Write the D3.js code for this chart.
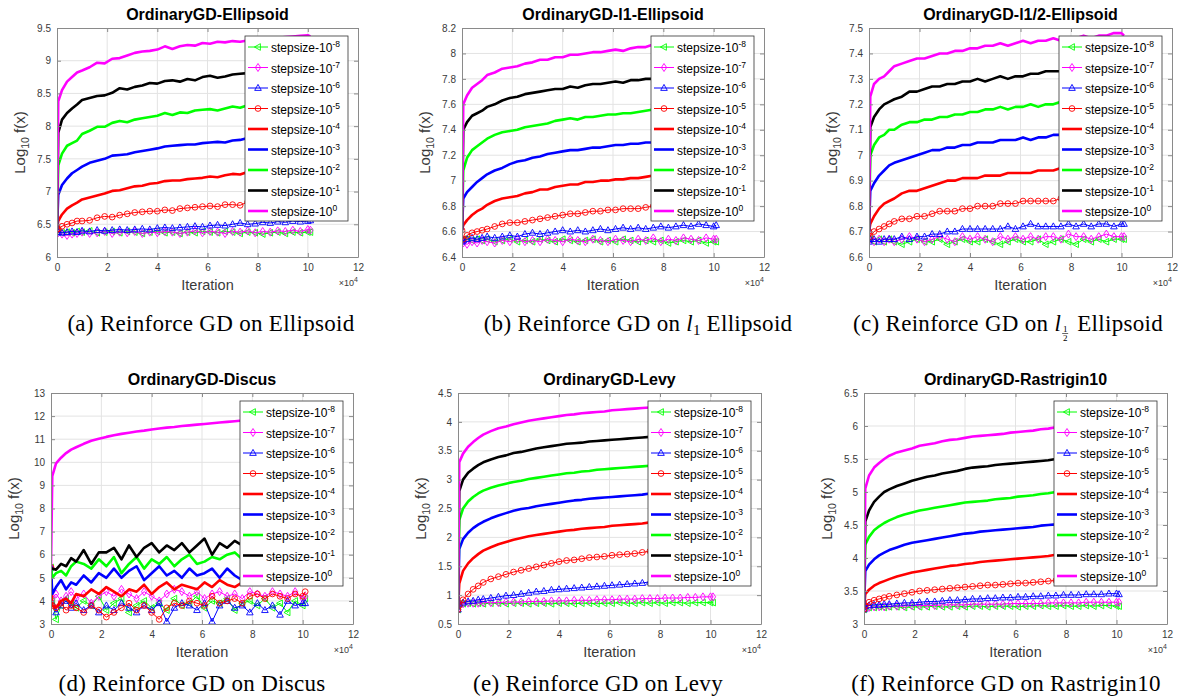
<!DOCTYPE html>
<html>
<head>
<meta charset="utf-8">
<script src="https://cdn.jsdelivr.net/npm/d3@7"></script>
<style>
  html, body { margin: 0; padding: 0; background: #fff; }
  svg { display: block; }
</style>
</head>
<body>
<svg id="chart" width="1194" height="698"></svg>
<script>
// ---------------- DATA ----------------
// iteration (x 10^4)
const iterations = [0, 0.05, 0.2, 0.4, 0.6, 0.8, 1.0, 1.3, 1.6, 1.9, 2.2, 2.5, 2.8, 3.1, 3.4, 3.7, 4.0, 4.3, 4.6, 4.9, 5.2, 5.5, 5.8, 6.1, 6.4, 6.7, 7.0, 7.3, 7.6, 7.9, 8.2, 8.5, 8.8, 9.1, 9.4, 9.7, 10.0, 10.1];
const stepExponents = ["-8", "-7", "-6", "-5", "-4", "-3", "-2", "-1", "0"];
const xTicks = [0, 2, 4, 6, 8, 10, 12];

const panelTitles = ["OrdinaryGD-Ellipsoid", "OrdinaryGD-l1-Ellipsoid", "OrdinaryGD-l1/2-Ellipsoid",
                     "OrdinaryGD-Discus", "OrdinaryGD-Levy", "OrdinaryGD-Rastrigin10"];

const yTicksEllipsoid = [6, 6.5, 7, 7.5, 8, 8.5, 9, 9.5];
const yTicksL1 = [6.4, 6.6, 6.8, 7, 7.2, 7.4, 7.6, 7.8, 8, 8.2];
const yTicksL12 = [6.6, 6.7, 6.8, 6.9, 7, 7.1, 7.2, 7.3, 7.4, 7.5];
const yTicksDiscus = [3, 4, 5, 6, 7, 8, 9, 10, 11, 12, 13];
const yTicksLevy = [0.5, 1, 1.5, 2, 2.5, 3, 3.5, 4, 4.5];
const yTicksRastrigin = [3, 3.5, 4, 4.5, 5, 5.5, 6, 6.5];

// series order: stepsize 10^-8, 10^-7, ..., 10^0
const ellipsoidValues = [
  [6.42,6.38,6.37,6.38,6.37,6.39,6.38,6.40,6.37,6.38,6.39,6.37,6.39,6.38,6.36,6.38,6.39,6.37,6.38,6.36,6.38,6.37,6.39,6.38,6.37,6.39,6.38,6.36,6.38,6.37,6.35,6.37,6.38,6.36,6.38,6.37,6.38,6.38],
  [6.42,6.37,6.35,6.33,6.35,6.36,6.38,6.36,6.37,6.39,6.36,6.38,6.37,6.39,6.36,6.38,6.37,6.39,6.38,6.36,6.38,6.40,6.37,6.39,6.38,6.36,6.39,6.38,6.40,6.37,6.39,6.38,6.40,6.39,6.41,6.39,6.42,6.41],
  [6.42,6.38,6.37,6.38,6.39,6.38,6.40,6.39,6.41,6.40,6.41,6.42,6.41,6.42,6.43,6.42,6.44,6.45,6.44,6.45,6.46,6.47,6.46,6.48,6.49,6.48,6.50,6.52,6.50,6.51,6.53,6.52,6.54,6.53,6.55,6.54,6.55,6.56],
  [6.42,6.43,6.47,6.50,6.52,6.55,6.55,6.56,6.60,6.62,6.61,6.64,6.66,6.68,6.69,6.70,6.70,6.72,6.71,6.74,6.75,6.76,6.77,6.78,6.77,6.80,6.80,6.79,6.84,6.82,6.83,6.84,6.83,6.85,6.86,6.85,6.87,6.86],
  [6.42,6.55,6.65,6.74,6.79,6.83,6.88,6.91,6.94,6.97,7.01,7.02,7.05,7.08,7.09,7.12,7.13,7.16,7.17,7.17,7.19,7.20,7.21,7.23,7.22,7.25,7.27,7.26,7.30,7.29,7.31,7.31,7.32,7.33,7.33,7.34,7.35,7.35],
  [6.42,6.95,7.10,7.20,7.28,7.33,7.38,7.44,7.47,7.50,7.55,7.56,7.57,7.60,7.62,7.64,7.66,7.69,7.70,7.71,7.72,7.72,7.74,7.75,7.76,7.75,7.78,7.79,7.82,7.82,7.83,7.84,7.84,7.85,7.86,7.86,7.87,7.87],
  [6.42,7.40,7.58,7.70,7.74,7.78,7.88,7.93,7.99,7.99,8.05,8.08,8.06,8.10,8.12,8.14,8.16,8.20,8.17,8.21,8.20,8.24,8.25,8.26,8.24,8.27,8.30,8.28,8.32,8.31,8.33,8.34,8.33,8.35,8.36,8.35,8.37,8.37],
  [6.42,7.90,8.10,8.20,8.27,8.33,8.40,8.43,8.46,8.47,8.51,8.58,8.56,8.60,8.62,8.66,8.65,8.69,8.70,8.68,8.72,8.70,8.75,8.77,8.74,8.76,8.79,8.80,8.81,8.80,8.82,8.83,8.82,8.84,8.85,8.84,8.86,8.86],
  [6.42,8.38,8.55,8.68,8.75,8.82,8.85,8.90,8.97,8.96,9.03,9.04,9.08,9.12,9.14,9.15,9.17,9.22,9.18,9.22,9.24,9.23,9.27,9.26,9.29,9.28,9.30,9.29,9.31,9.33,9.34,9.35,9.35,9.36,9.37,9.38,9.39,9.37]
];
const l1EllipsoidValues = [
  [6.53,6.54,6.54,6.53,6.54,6.53,6.54,6.52,6.53,6.54,6.52,6.53,6.52,6.54,6.53,6.52,6.54,6.53,6.52,6.53,6.54,6.52,6.53,6.52,6.54,6.53,6.52,6.53,6.52,6.53,6.51,6.52,6.53,6.52,6.53,6.51,6.52,6.52],
  [6.52,6.51,6.50,6.52,6.51,6.53,6.52,6.51,6.53,6.52,6.54,6.52,6.53,6.52,6.54,6.53,6.52,6.54,6.53,6.52,6.54,6.53,6.52,6.54,6.53,6.52,6.54,6.53,6.55,6.52,6.54,6.53,6.55,6.54,6.53,6.55,6.54,6.54],
  [6.52,6.53,6.54,6.55,6.54,6.55,6.56,6.55,6.56,6.57,6.56,6.58,6.59,6.58,6.59,6.60,6.61,6.60,6.61,6.60,6.61,6.62,6.61,6.62,6.63,6.62,6.63,6.62,6.63,6.64,6.63,6.64,6.65,6.64,6.66,6.65,6.64,6.65],
  [6.61,6.54,6.57,6.59,6.60,6.61,6.62,6.64,6.66,6.67,6.67,6.68,6.69,6.70,6.71,6.72,6.73,6.74,6.74,6.75,6.76,6.76,6.77,6.77,6.78,6.78,6.78,6.79,6.80,6.80,6.81,6.81,6.82,6.82,6.83,6.83,6.84,6.84],
  [6.61,6.65,6.69,6.73,6.76,6.78,6.81,6.84,6.86,6.87,6.88,6.90,6.91,6.93,6.93,6.95,6.96,6.97,6.97,6.99,6.99,7.00,7.00,7.01,7.01,7.02,7.02,7.03,7.04,7.04,7.05,7.05,7.06,7.06,7.07,7.07,7.08,7.08],
  [6.61,6.86,6.91,6.95,6.99,7.02,7.05,7.08,7.10,7.13,7.15,7.16,7.18,7.19,7.21,7.22,7.23,7.24,7.24,7.25,7.26,7.26,7.27,7.28,7.28,7.29,7.29,7.30,7.30,7.31,7.31,7.32,7.32,7.33,7.33,7.33,7.34,7.34],
  [6.61,7.08,7.18,7.24,7.27,7.30,7.33,7.36,7.38,7.39,7.40,7.42,7.43,7.44,7.45,7.47,7.48,7.49,7.48,7.50,7.50,7.51,7.52,7.52,7.53,7.53,7.54,7.55,7.56,7.56,7.57,7.57,7.58,7.58,7.59,7.59,7.60,7.60],
  [6.61,7.40,7.46,7.51,7.53,7.55,7.58,7.60,7.63,7.65,7.66,7.68,7.69,7.70,7.71,7.72,7.72,7.74,7.73,7.75,7.76,7.76,7.77,7.78,7.77,7.79,7.79,7.80,7.80,7.81,7.81,7.82,7.82,7.83,7.83,7.84,7.84,7.84],
  [6.61,7.60,7.67,7.73,7.76,7.79,7.83,7.85,7.88,7.89,7.90,7.92,7.93,7.95,7.95,7.97,7.97,7.99,7.99,8.00,8.01,8.01,8.02,8.03,8.02,8.04,8.05,8.05,8.07,8.06,8.07,8.08,8.08,8.09,8.09,8.10,8.10,8.10]
];
const l12EllipsoidValues = [
  [6.67,6.67,6.66,6.67,6.66,6.67,6.66,6.65,6.66,6.67,6.66,6.66,6.67,6.65,6.66,6.67,6.66,6.66,6.67,6.66,6.65,6.66,6.67,6.66,6.66,6.67,6.65,6.66,6.67,6.66,6.65,6.67,6.66,6.67,6.66,6.67,6.67,6.67],
  [6.70,6.67,6.66,6.67,6.66,6.67,6.66,6.67,6.68,6.67,6.66,6.67,6.68,6.67,6.66,6.68,6.67,6.68,6.67,6.66,6.68,6.67,6.68,6.67,6.68,6.67,6.68,6.68,6.67,6.69,6.68,6.68,6.67,6.68,6.69,6.68,6.68,6.68],
  [6.66,6.67,6.67,6.66,6.67,6.67,6.67,6.68,6.67,6.68,6.68,6.69,6.69,6.70,6.70,6.71,6.71,6.71,6.71,6.71,6.71,6.72,6.71,6.72,6.73,6.72,6.72,6.72,6.72,6.73,6.72,6.73,6.72,6.73,6.73,6.72,6.73,6.73],
  [6.70,6.68,6.70,6.71,6.72,6.73,6.74,6.75,6.75,6.76,6.76,6.77,6.78,6.78,6.78,6.79,6.79,6.80,6.80,6.80,6.81,6.81,6.81,6.82,6.82,6.82,6.82,6.82,6.83,6.83,6.83,6.84,6.84,6.84,6.84,6.85,6.85,6.85],
  [6.70,6.73,6.76,6.79,6.81,6.82,6.83,6.85,6.86,6.86,6.87,6.88,6.89,6.90,6.90,6.91,6.91,6.91,6.92,6.92,6.92,6.93,6.93,6.93,6.93,6.94,6.94,6.94,6.95,6.95,6.95,6.95,6.96,6.96,6.96,6.96,6.97,6.97],
  [6.70,6.86,6.89,6.92,6.94,6.96,6.97,6.98,6.99,7.00,7.01,7.02,7.02,7.03,7.03,7.04,7.04,7.05,7.05,7.05,7.06,7.06,7.06,7.07,7.06,7.07,7.07,7.08,7.08,7.08,7.09,7.09,7.09,7.10,7.10,7.10,7.10,7.10],
  [6.70,7.00,7.04,7.07,7.08,7.10,7.10,7.12,7.13,7.13,7.14,7.14,7.15,7.15,7.16,7.16,7.17,7.17,7.18,7.18,7.19,7.18,7.19,7.19,7.20,7.19,7.20,7.20,7.21,7.21,7.21,7.22,7.22,7.22,7.22,7.23,7.23,7.23],
  [6.70,7.11,7.15,7.18,7.20,7.21,7.22,7.23,7.25,7.25,7.26,7.27,7.27,7.28,7.28,7.29,7.29,7.30,7.29,7.30,7.31,7.30,7.31,7.31,7.32,7.32,7.33,7.33,7.33,7.34,7.34,7.34,7.35,7.35,7.35,7.35,7.36,7.36],
  [6.70,7.23,7.28,7.30,7.31,7.33,7.35,7.36,7.37,7.38,7.38,7.39,7.40,7.40,7.41,7.41,7.42,7.42,7.43,7.43,7.44,7.43,7.44,7.45,7.44,7.45,7.45,7.46,7.45,7.46,7.46,7.47,7.46,7.47,7.47,7.48,7.48,7.47]
];
const discusValues = [
  [5.45,4.0,3.2,3.8,4.1,3.9,3.7,4.0,3.8,4.2,3.6,3.9,4.1,3.5,3.8,4.0,3.7,3.9,3.6,4.1,3.8,3.9,4.2,3.7,4.0,3.9,4.1,3.6,3.9,4.0,3.8,4.1,3.7,3.9,3.5,4.0,3.8,4.1],
  [5.45,4.1,4.3,4.0,4.2,4.4,4.1,4.3,3.9,4.2,4.4,4.2,4.5,4.3,4.1,4.4,4.2,4.0,4.3,4.5,4.4,4.2,4.4,4.1,4.3,4.4,4.2,4.3,4.1,4.4,4.3,4.2,4.4,4.3,4.2,4.4,4.1,4.2],
  [5.45,3.9,3.5,3.8,4.0,3.7,3.9,3.6,3.8,3.5,3.8,3.6,3.9,3.7,3.5,3.8,3.6,3.9,3.1,3.7,3.9,3.8,3.6,3.9,3.1,3.8,4.0,3.7,3.8,3.5,3.9,3.6,3.8,3.4,4.0,3.8,3.9,3.9],
  [5.45,3.8,3.7,3.9,3.6,3.8,3.7,3.5,3.8,3.6,3.3,3.5,3.7,3.9,3.6,3.8,3.5,3.2,3.7,3.9,3.8,4.0,3.9,3.8,4.2,3.9,4.0,4.1,3.9,4.2,4.3,4.1,4.3,4.2,4.1,4.3,4.2,4.4],
  [5.45,3.8,3.7,4.0,4.1,3.9,4.3,4.2,4.5,4.3,4.6,4.4,4.2,4.5,4.4,4.7,4.3,4.6,4.8,4.5,4.7,4.6,4.5,4.8,4.6,4.9,4.7,4.6,4.8,4.7,4.9,4.8,4.7,4.9,4.8,4.9,4.8,4.9],
  [5.45,4.3,4.6,4.9,4.5,4.8,4.7,5.1,4.8,5.2,5.0,5.4,5.0,5.3,5.5,4.9,5.2,5.5,5.1,5.3,5.0,5.4,5.1,5.2,5.4,5.0,5.4,5.1,4.9,5.2,5.3,5.1,5.4,5.2,5.3,5.1,5.3,5.2],
  [5.45,5.0,5.2,5.3,5.1,5.5,5.7,5.6,5.4,5.8,5.5,5.9,5.2,5.6,5.9,5.4,5.8,5.6,5.9,5.5,5.8,6.0,5.6,5.7,5.9,5.8,6.0,6.1,5.8,6.0,5.9,6.1,6.0,5.9,6.1,6.0,6.1,6.0],
  [5.45,5.4,5.35,5.6,5.5,5.85,5.7,6.2,5.6,6.1,6.1,6.3,5.8,6.4,5.9,6.3,6.5,6.1,6.4,6.2,6.5,6.1,6.4,6.7,6.0,6.5,6.3,6.6,6.4,6.5,6.6,6.4,6.7,6.5,6.6,6.5,6.7,6.6],
  [5.45,9.4,9.95,10.2,10.4,10.55,10.65,10.8,10.93,11.02,11.1,11.17,11.23,11.28,11.33,11.37,11.42,11.46,11.5,11.53,11.57,11.6,11.63,11.66,11.69,11.72,11.75,11.78,11.81,11.83,11.85,11.87,11.89,11.91,11.93,11.95,11.97,11.97]
];
const levyValues = [
  [0.75,0.85,0.85,0.86,0.85,0.86,0.85,0.86,0.86,0.85,0.86,0.86,0.85,0.86,0.86,0.85,0.86,0.86,0.85,0.86,0.86,0.85,0.86,0.86,0.87,0.86,0.86,0.87,0.86,0.87,0.86,0.87,0.87,0.86,0.87,0.87,0.87,0.87],
  [0.75,0.85,0.85,0.86,0.86,0.86,0.87,0.87,0.87,0.88,0.88,0.88,0.89,0.89,0.89,0.90,0.90,0.90,0.91,0.91,0.91,0.92,0.92,0.92,0.93,0.93,0.93,0.94,0.94,0.94,0.95,0.95,0.95,0.96,0.96,0.97,0.97,0.97],
  [0.75,0.85,0.87,0.89,0.90,0.92,0.93,0.95,0.97,0.99,1.00,1.02,1.04,1.06,1.07,1.09,1.10,1.11,1.12,1.13,1.14,1.15,1.16,1.17,1.18,1.19,1.20,1.21,1.23,1.24,1.25,1.25,1.26,1.27,1.28,1.28,1.29,1.29],
  [0.75,0.82,0.92,1.02,1.10,1.16,1.22,1.28,1.32,1.36,1.40,1.43,1.46,1.49,1.52,1.55,1.58,1.60,1.61,1.63,1.65,1.66,1.67,1.69,1.70,1.71,1.72,1.74,1.76,1.77,1.78,1.79,1.80,1.81,1.82,1.83,1.84,1.84],
  [0.75,1.20,1.42,1.55,1.64,1.71,1.77,1.83,1.88,1.92,1.96,1.99,2.02,2.04,2.06,2.08,2.10,2.12,2.13,2.15,2.16,2.17,2.18,2.20,2.21,2.22,2.23,2.24,2.26,2.26,2.27,2.28,2.29,2.30,2.31,2.31,2.32,2.32],
  [0.75,1.80,1.97,2.08,2.16,2.22,2.27,2.33,2.38,2.42,2.46,2.49,2.51,2.54,2.56,2.58,2.60,2.62,2.64,2.65,2.67,2.68,2.69,2.70,2.71,2.72,2.73,2.74,2.76,2.77,2.78,2.79,2.80,2.80,2.81,2.82,2.83,2.83],
  [0.75,2.30,2.50,2.62,2.70,2.76,2.81,2.86,2.90,2.93,2.96,2.98,3.01,3.03,3.05,3.07,3.09,3.11,3.12,3.14,3.15,3.17,3.18,3.19,3.20,3.21,3.22,3.23,3.24,3.25,3.26,3.27,3.28,3.28,3.29,3.30,3.31,3.31],
  [0.75,2.80,3.00,3.12,3.19,3.25,3.30,3.35,3.39,3.42,3.46,3.48,3.51,3.54,3.56,3.58,3.60,3.62,3.63,3.64,3.66,3.67,3.68,3.69,3.70,3.71,3.72,3.73,3.74,3.75,3.76,3.77,3.78,3.78,3.79,3.80,3.81,3.81],
  [0.75,3.30,3.45,3.57,3.65,3.72,3.78,3.84,3.89,3.92,3.96,3.99,4.02,4.04,4.06,4.08,4.10,4.12,4.13,4.15,4.16,4.17,4.18,4.20,4.21,4.22,4.23,4.24,4.25,4.26,4.27,4.28,4.29,4.30,4.31,4.32,4.32,4.32]
];
const rastriginValues = [
  [3.22,3.25,3.25,3.25,3.26,3.25,3.26,3.26,3.25,3.26,3.26,3.26,3.27,3.26,3.26,3.27,3.26,3.27,3.27,3.26,3.27,3.27,3.27,3.26,3.27,3.27,3.28,3.27,3.27,3.28,3.27,3.27,3.28,3.27,3.28,3.28,3.27,3.27],
  [3.22,3.25,3.25,3.26,3.26,3.26,3.27,3.27,3.27,3.28,3.28,3.28,3.28,3.29,3.29,3.29,3.29,3.30,3.30,3.30,3.30,3.30,3.31,3.31,3.31,3.31,3.31,3.32,3.32,3.32,3.32,3.32,3.33,3.33,3.33,3.33,3.33,3.33],
  [3.22,3.27,3.28,3.29,3.29,3.30,3.30,3.31,3.32,3.32,3.33,3.34,3.34,3.35,3.36,3.36,3.37,3.38,3.38,3.39,3.39,3.40,3.40,3.41,3.41,3.42,3.42,3.43,3.43,3.44,3.44,3.44,3.45,3.45,3.45,3.46,3.46,3.45],
  [3.22,3.28,3.33,3.36,3.38,3.40,3.42,3.44,3.46,3.48,3.50,3.51,3.52,3.53,3.54,3.55,3.56,3.57,3.58,3.59,3.59,3.60,3.61,3.62,3.62,3.63,3.64,3.65,3.66,3.67,3.67,3.68,3.68,3.69,3.69,3.70,3.70,3.70],
  [3.22,3.45,3.52,3.58,3.62,3.65,3.68,3.72,3.75,3.78,3.80,3.82,3.84,3.86,3.88,3.89,3.91,3.92,3.94,3.95,3.96,3.97,3.98,3.99,4.00,4.01,4.02,4.03,4.05,4.06,4.07,4.07,4.08,4.09,4.10,4.10,4.11,4.11],
  [3.22,3.80,3.90,3.98,4.04,4.08,4.12,4.16,4.20,4.23,4.25,4.27,4.29,4.31,4.33,4.35,4.37,4.38,4.40,4.41,4.42,4.43,4.44,4.45,4.46,4.47,4.49,4.50,4.51,4.52,4.53,4.54,4.54,4.55,4.56,4.57,4.57,4.57],
  [3.22,4.20,4.32,4.42,4.48,4.53,4.57,4.62,4.66,4.69,4.72,4.74,4.76,4.78,4.80,4.82,4.84,4.85,4.86,4.87,4.89,4.90,4.91,4.93,4.94,4.95,4.97,4.98,5.00,5.01,5.02,5.03,5.03,5.04,5.05,5.06,5.07,5.07],
  [3.22,4.55,4.72,4.85,4.93,5.00,5.04,5.09,5.13,5.17,5.20,5.23,5.25,5.28,5.30,5.32,5.35,5.37,5.38,5.39,5.41,5.42,5.43,5.44,5.45,5.46,5.47,5.48,5.50,5.51,5.52,5.53,5.53,5.54,5.55,5.56,5.57,5.57],
  [3.22,5.05,5.25,5.37,5.44,5.50,5.55,5.60,5.63,5.66,5.70,5.72,5.74,5.77,5.79,5.80,5.82,5.84,5.85,5.86,5.87,5.88,5.90,5.91,5.92,5.93,5.95,5.96,5.98,5.99,6.00,6.01,6.02,6.02,6.03,6.04,6.05,6.05]
];

// ---------------- STYLE / LAYOUT ----------------
const seriesStyle = [
  { color: "#00ff00", width: 1, marker: "left" },
  { color: "#ff00ff", width: 1, marker: "diamond" },
  { color: "#0000ff", width: 1, marker: "up" },
  { color: "#ff0000", width: 1, marker: "circle" },
  { color: "#ff0000", width: 2.6 },
  { color: "#0000ff", width: 2.6 },
  { color: "#00ff00", width: 2.6 },
  { color: "#000000", width: 2.6 },
  { color: "#ff00ff", width: 2.6 }
];

const panels = [
  { title: panelTitles[0], values: ellipsoidValues, yTicks: yTicksEllipsoid, rect: [57, 28, 358, 257], cap: { cx: 211, y: 331, pieces: [{ t: "(a) Reinforce GD on Ellipsoid" }] } },
  { title: panelTitles[1], values: l1EllipsoidValues, yTicks: yTicksL1, rect: [462, 28, 764, 257], cap: { cx: 638, y: 331, pieces: [{ t: "(b) Reinforce GD on " }, { t: "l", italic: true }, { t: "1", sub: true }, { t: " Ellipsoid" }] } },
  { title: panelTitles[2], values: l12EllipsoidValues, yTicks: yTicksL12, rect: [869, 28, 1172, 257], cap: { cx: 1008, y: 331, pieces: [{ t: "(c) Reinforce GD on " }, { t: "l", italic: true }, { frac: ["1", "2"] }, { t: " Ellipsoid" }] } },
  { title: panelTitles[3], values: discusValues, yTicks: yTicksDiscus, rect: [51, 393, 353, 624], cap: { cx: 192, y: 691, pieces: [{ t: "(d) Reinforce GD on Discus" }] } },
  { title: panelTitles[4], values: levyValues, yTicks: yTicksLevy, rect: [458, 393, 761, 624], cap: { cx: 598, y: 691, pieces: [{ t: "(e) Reinforce GD on Levy" }] } },
  { title: panelTitles[5], values: rastriginValues, yTicks: yTicksRastrigin, rect: [864, 393, 1167, 624], cap: { cx: 1006, y: 691, pieces: [{ t: "(f) Reinforce GD on Rastrigin10" }] } }
];

const SANS = "'Liberation Sans', Arial, Helvetica, sans-serif";
const SERIF = "'Liberation Serif', 'Times New Roman', serif";
const AXIS_COLOR = "#8a8a8a";
const TEXT_COLOR = "#3a3a3a";

const svg = d3.select("#chart");

function markerPath(kind) {
  if (kind === "circle") return d3.symbol(d3.symbolCircle, 26)();
  if (kind === "diamond") return "M0,-4L2.6,0L0,4L-2.6,0Z";
  if (kind === "up") return "M0,-3.6L3.3,2.4L-3.3,2.4Z";
  if (kind === "left") return "M-3.6,0L2.4,-3.3L2.4,3.3Z";
  return null;
}

panels.forEach((p, pi) => {
  const [x0, y0, x1, y1] = p.rect;
  const g = svg.append("g");
  const yMin = p.yTicks[0], yMax = p.yTicks[p.yTicks.length - 1];
  const x = d3.scaleLinear().domain([xTicks[0], xTicks[xTicks.length - 1]]).range([x0, x1]);
  const y = d3.scaleLinear().domain([yMin, yMax]).range([y1, y0]);
  const fmt = d => String(+d.toFixed(2));

  g.append("rect").attr("x", x0).attr("y", y0).attr("width", x1 - x0).attr("height", y1 - y0).attr("fill", "#fff");

  // grid
  g.append("g").selectAll("line").data(xTicks.slice(1, -1)).join("line")
    .attr("x1", d => x(d)).attr("x2", d => x(d)).attr("y1", y0).attr("y2", y1)
    .attr("stroke", "#e3e3e3").attr("stroke-width", 1);
  g.append("g").selectAll("line").data(p.yTicks.slice(1, -1)).join("line")
    .attr("x1", x0).attr("x2", x1).attr("y1", d => y(d)).attr("y2", d => y(d))
    .attr("stroke", "#e3e3e3").attr("stroke-width", 1);

  // series
  const clipId = "clip" + pi;
  g.append("clipPath").attr("id", clipId).append("rect")
    .attr("x", x0).attr("y", y0).attr("width", x1 - x0).attr("height", y1 - y0);
  const plot = g.append("g").attr("clip-path", `url(#${clipId})`);
  const line = d3.line().x((d, i) => x(iterations[i])).y(d => y(d));
  p.values.forEach((vals, si) => {
    const st = seriesStyle[si];
    plot.append("path").attr("d", line(vals)).attr("fill", "none")
      .attr("stroke", st.color).attr("stroke-width", st.width).attr("stroke-linejoin", "round");
    if (st.marker) {
      plot.append("g").selectAll("path").data(vals).join("path")
        .attr("d", markerPath(st.marker))
        .attr("transform", (d, i) => `translate(${x(iterations[i])},${y(d)})`)
        .attr("fill", "none").attr("stroke", st.color).attr("stroke-width", 0.9);
    }
  });

  // axes (box, inward ticks)
  const styleAxis = sel => {
    sel.selectAll("path.domain").attr("stroke", AXIS_COLOR);
    sel.selectAll(".tick line").attr("stroke", AXIS_COLOR);
    sel.selectAll("text").attr("fill", TEXT_COLOR).style("font-family", SANS).style("font-size", "10px");
  };
  g.append("g").attr("transform", `translate(0,${y1})`)
    .call(d3.axisBottom(x).tickValues(xTicks).tickFormat(fmt).tickSizeInner(-4).tickSizeOuter(0).tickPadding(7))
    .call(styleAxis);
  g.append("g").attr("transform", `translate(0,${y0})`)
    .call(d3.axisTop(x).tickValues(xTicks).tickFormat("").tickSizeInner(-4).tickSizeOuter(0))
    .call(styleAxis);
  g.append("g").attr("transform", `translate(${x0},0)`)
    .call(d3.axisLeft(y).tickValues(p.yTicks).tickFormat(fmt).tickSizeInner(-4).tickSizeOuter(0).tickPadding(6))
    .call(styleAxis);
  g.append("g").attr("transform", `translate(${x1},0)`)
    .call(d3.axisRight(y).tickValues(p.yTicks).tickFormat("").tickSizeInner(-4).tickSizeOuter(0))
    .call(styleAxis);

  // title
  g.append("text").attr("x", (x0 + x1) / 2).attr("y", y0 - 8).attr("text-anchor", "middle")
    .style("font-family", SANS).style("font-size", "16px").style("font-weight", "bold").attr("fill", "#000")
    .text(p.title);

  // x label
  g.append("text").attr("x", (x0 + x1) / 2).attr("y", y1 + 33).attr("text-anchor", "middle")
    .style("font-family", SANS).style("font-size", "14.5px").attr("fill", TEXT_COLOR).text("Iteration");
  const xm = g.append("text").attr("x", x1).attr("y", y1 + 29).attr("text-anchor", "end")
    .style("font-family", SANS).style("font-size", "9px").attr("fill", TEXT_COLOR);
  xm.append("tspan").text("\u00d710");
  xm.append("tspan").attr("dy", -4).style("font-size", "7px").text("4");

  // y label
  const yl = g.append("text").attr("transform", `translate(${x0 - 32},${(y0 + y1) / 2}) rotate(-90)`)
    .attr("text-anchor", "middle").style("font-family", SANS).style("font-size", "15px").attr("fill", TEXT_COLOR);
  yl.append("tspan").text("Log");
  yl.append("tspan").attr("dy", 4).style("font-size", "10.5px").text("10");
  yl.append("tspan").attr("dy", -4).text(" f(x)");

  // legend
  const LW = 103, LH = 185, rowH = 20.5;
  const lg = g.append("g").attr("transform", `translate(${x1 - 10 - LW},${y0 + 8})`);
  lg.append("rect").attr("width", LW).attr("height", LH).attr("fill", "#fff")
    .attr("stroke", "#333").attr("stroke-width", 0.8);
  stepExponents.forEach((e, i) => {
    const st = seriesStyle[i];
    const ry = 11 + i * rowH;
    lg.append("line").attr("x1", 3).attr("x2", 23).attr("y1", ry).attr("y2", ry)
      .attr("stroke", st.color).attr("stroke-width", st.width);
    if (st.marker) {
      lg.append("path").attr("d", markerPath(st.marker)).attr("transform", `translate(13,${ry})`)
        .attr("fill", "none").attr("stroke", st.color).attr("stroke-width", 0.9);
    }
    const t = lg.append("text").attr("x", 26).attr("y", ry + 5)
      .style("font-family", SANS).style("font-size", "12px").attr("fill", "#000");
    t.append("tspan").text("stepsize-10");
    t.append("tspan").attr("dy", -5).style("font-size", "8.5px").text(e);
  });

  // caption
  const cg = svg.append("g");
  let cx = 0;
  const cy = p.cap.y;
  p.cap.pieces.forEach(pc => {
    if (pc.frac) {
      const w = 6;
      cg.append("text").attr("x", cx + 1 + w / 2).attr("y", cy + 1).attr("text-anchor", "middle")
        .style("font-family", SERIF).style("font-size", "9px").text(pc.frac[0]);
      cg.append("line").attr("x1", cx + 1).attr("x2", cx + 1 + w).attr("y1", cy + 2.5).attr("y2", cy + 2.5)
        .attr("stroke", "#000").attr("stroke-width", 0.6);
      cg.append("text").attr("x", cx + 1 + w / 2).attr("y", cy + 9.5).attr("text-anchor", "middle")
        .style("font-family", SERIF).style("font-size", "9px").text(pc.frac[1]);
      cx += w + 4;
    } else {
      const t = cg.append("text").attr("x", cx).attr("y", cy + (pc.sub ? 4 : 0))
        .style("font-family", SERIF).style("font-size", pc.sub ? "15px" : "23px")
        .style("letter-spacing", pc.sub ? "0px" : "0.3px")
        .style("font-style", pc.italic ? "italic" : "normal")
        .style("white-space", "pre").attr("fill", "#000").text(pc.t);
      cx += t.node().getComputedTextLength();
    }
  });
  cg.attr("transform", `translate(${p.cap.cx - cx / 2},0)`);
});
</script>
</body>
</html>
